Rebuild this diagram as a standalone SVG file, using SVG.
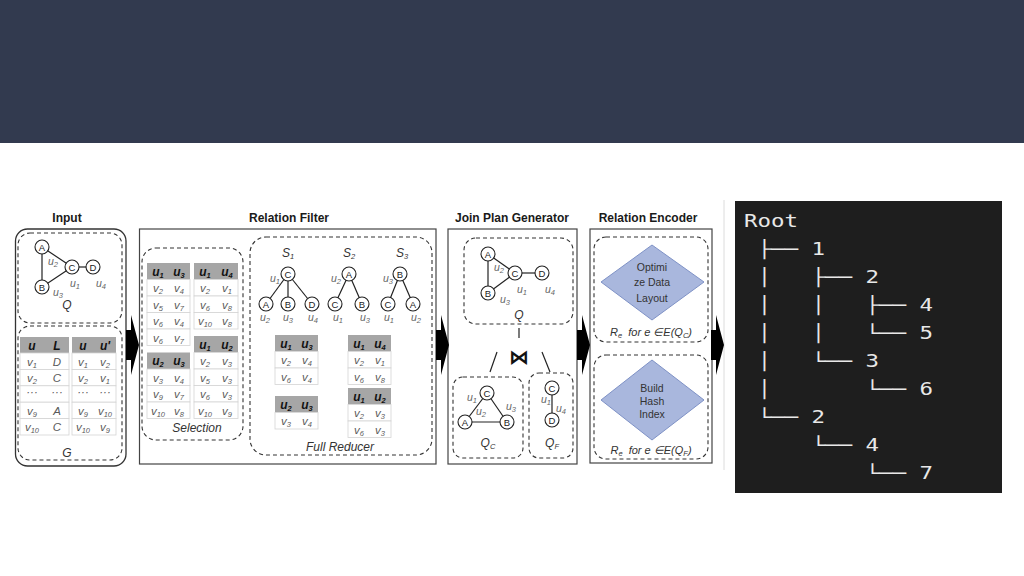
<svg xmlns="http://www.w3.org/2000/svg" width="1024" height="576" viewBox="0 0 1024 576">
<style>
.title{font:bold 12px "Liberation Sans",Arial,sans-serif;fill:#1a1a1a;text-anchor:middle}
.dash{fill:none;stroke:#333;stroke-width:1.1;stroke-dasharray:4 3}
.box{fill:#fff;stroke:#444;stroke-width:1.2}
.hd{fill:#a6a6a6}
.rw{fill:#fff;stroke:#d4d4d4;stroke-width:.8}
.ht{font:bold italic 12px "Liberation Sans",Arial,sans-serif;fill:#111;text-anchor:middle}
.ct{font:italic 11.5px "Liberation Sans",Arial,sans-serif;fill:#5a5a5a;text-anchor:middle}
.sb{font-size:7.5px}
.edge{stroke:#222;stroke-width:1.2}
.nd{fill:#fff;stroke:#222;stroke-width:1.1}
.nl{font:9.5px "Liberation Sans",Arial,sans-serif;fill:#222;text-anchor:middle}
.el{font:italic 10.5px "Liberation Sans",Arial,sans-serif;fill:#666;text-anchor:middle}
.cap{font:italic 12px "Liberation Sans",Arial,sans-serif;fill:#333;text-anchor:middle}
.dm{fill:#a9b7dd;stroke:#7f92c6;stroke-width:1}
.dt{font:10.5px "Liberation Sans",Arial,sans-serif;fill:#333;text-anchor:middle}
.rl{font:italic 11px "Liberation Sans",Arial,sans-serif;fill:#333;text-anchor:middle;white-space:pre}
.tr{font:17px "DejaVu Sans Mono",monospace;fill:#e8e8e8;white-space:pre}
</style>
<defs>
<path id="arw" d="M0,-15 H5 V-30 L13,0 L5,30 V15 H0 Z" fill="#000"/>
</defs>
<rect x="0" y="0" width="1024" height="143" fill="#323a4f"/>
<rect x="0" y="143" width="1024" height="433" fill="#fff"/>

<!-- Titles -->
<text class="title" x="67" y="222">Input</text>
<text class="title" x="289" y="222">Relation Filter</text>
<text class="title" x="512" y="222">Join Plan Generator</text>
<text class="title" x="648" y="222">Relation Encoder</text>

<!-- Input panel -->
<g id="input">
<rect x="15.5" y="229" width="110.5" height="237" rx="12" fill="#fff" stroke="#333" stroke-width="1.3"/>
<rect class="dash" x="18" y="233" width="104" height="90" rx="12"/>
<rect class="dash" x="18" y="326" width="104" height="134" rx="12"/>
<g id="input-edges">
<line class="edge" x1="42" y1="247" x2="72" y2="267"/>
<line class="edge" x1="42" y1="247" x2="42" y2="287"/>
<line class="edge" x1="42" y1="287" x2="72" y2="267"/>
<line class="edge" x1="72" y1="267" x2="93" y2="267"/>
</g>
<g id="in-A"><circle class="nd" cx="42" cy="247" r="7"/><text class="nl" x="42" y="250.5">A</text></g>
<g id="in-C"><circle class="nd" cx="72" cy="267" r="7"/><text class="nl" x="72" y="270.5">C</text></g>
<g id="in-D"><circle class="nd" cx="93" cy="267" r="7"/><text class="nl" x="93" y="270.5">D</text></g>
<g id="in-B"><circle class="nd" cx="42" cy="287" r="7"/><text class="nl" x="42" y="290.5">B</text></g>
<text class="el" x="53" y="265">u<tspan class="sb" dy="2">2</tspan></text>
<text class="el" x="75" y="287">u<tspan class="sb" dy="2">1</tspan></text>
<text class="el" x="101" y="287">u<tspan class="sb" dy="2">4</tspan></text>
<text class="el" x="58" y="296">u<tspan class="sb" dy="2">3</tspan></text>
<text class="cap" x="67" y="309">Q</text>
<g id="tbl-uL">
<rect class="hd" x="20" y="337" width="49" height="16"/>
<rect class="rw" x="20" y="353" width="49" height="16.4"/>
<rect class="rw" x="20" y="369.4" width="49" height="16.4"/>
<rect class="rw" x="20" y="385.8" width="49" height="16.4"/>
<rect class="rw" x="20" y="402.2" width="49" height="16.4"/>
<rect class="rw" x="20" y="418.6" width="49" height="16.4"/>
<text class="ht" x="32" y="349.5">u</text><text class="ht" x="57" y="349.5">L</text>
<text class="ct" x="32" y="365.5">v<tspan class="sb" dy="2">1</tspan></text><text class="ct" x="57" y="365.5">D</text>
<text class="ct" x="32" y="382">v<tspan class="sb" dy="2">2</tspan></text><text class="ct" x="57" y="382">C</text>
<text class="ct" x="32" y="396" font-size="8">···</text><text class="ct" x="57" y="396" font-size="8">···</text>
<text class="ct" x="32" y="414.5">v<tspan class="sb" dy="2">9</tspan></text><text class="ct" x="57" y="414.5">A</text>
<text class="ct" x="32" y="431">v<tspan class="sb" dy="2">10</tspan></text><text class="ct" x="57" y="431">C</text>
</g>
<g id="tbl-uu">
<rect class="hd" x="72" y="337" width="44" height="16"/>
<rect class="rw" x="72" y="353" width="44" height="16.4"/>
<rect class="rw" x="72" y="369.4" width="44" height="16.4"/>
<rect class="rw" x="72" y="385.8" width="44" height="16.4"/>
<rect class="rw" x="72" y="402.2" width="44" height="16.4"/>
<rect class="rw" x="72" y="418.6" width="44" height="16.4"/>
<text class="ht" x="83" y="349.5">u</text><text class="ht" x="105" y="349.5">u'</text>
<text class="ct" x="83" y="365.5">v<tspan class="sb" dy="2">1</tspan></text><text class="ct" x="105" y="365.5">v<tspan class="sb" dy="2">2</tspan></text>
<text class="ct" x="83" y="382">v<tspan class="sb" dy="2">2</tspan></text><text class="ct" x="105" y="382">v<tspan class="sb" dy="2">1</tspan></text>
<text class="ct" x="83" y="396" font-size="8">···</text><text class="ct" x="105" y="396" font-size="8">···</text>
<text class="ct" x="83" y="414.5">v<tspan class="sb" dy="2">9</tspan></text><text class="ct" x="105" y="414.5">v<tspan class="sb" dy="2">10</tspan></text>
<text class="ct" x="83" y="431">v<tspan class="sb" dy="2">10</tspan></text><text class="ct" x="105" y="431">v<tspan class="sb" dy="2">9</tspan></text>
</g>
<text class="cap" x="67" y="457">G</text>
</g>

<!-- Relation Filter panel -->
<g id="relation-filter">
<rect class="box" x="139.5" y="229" width="296.5" height="235"/>
<rect class="dash" x="142" y="248" width="101" height="192" rx="14"/>
<rect class="dash" x="250" y="237" width="182" height="218" rx="16"/>
<g id="sel-u1u3">
<rect class="hd" x="147" y="263" width="43" height="16.5"/>
<rect class="rw" x="147" y="279.5" width="43" height="16.5"/>
<rect class="rw" x="147" y="296" width="43" height="16.5"/>
<rect class="rw" x="147" y="312.5" width="43" height="16.5"/>
<rect class="rw" x="147" y="329" width="43" height="16.5"/>
<text class="ht" x="158" y="275.5">u<tspan class="sb" dy="2">1</tspan></text><text class="ht" x="179" y="275.5">u<tspan class="sb" dy="2">3</tspan></text>
<text class="ct" x="158" y="292">v<tspan class="sb" dy="2">2</tspan></text><text class="ct" x="179" y="292">v<tspan class="sb" dy="2">4</tspan></text>
<text class="ct" x="158" y="308.5">v<tspan class="sb" dy="2">5</tspan></text><text class="ct" x="179" y="308.5">v<tspan class="sb" dy="2">7</tspan></text>
<text class="ct" x="158" y="325">v<tspan class="sb" dy="2">6</tspan></text><text class="ct" x="179" y="325">v<tspan class="sb" dy="2">4</tspan></text>
<text class="ct" x="158" y="341.5">v<tspan class="sb" dy="2">6</tspan></text><text class="ct" x="179" y="341.5">v<tspan class="sb" dy="2">7</tspan></text>
</g>
<g id="sel-u1u4">
<rect class="hd" x="194" y="263" width="44" height="16.5"/>
<rect class="rw" x="194" y="279.5" width="44" height="16.5"/>
<rect class="rw" x="194" y="296" width="44" height="16.5"/>
<rect class="rw" x="194" y="312.5" width="44" height="16.5"/>
<text class="ht" x="205" y="275.5">u<tspan class="sb" dy="2">1</tspan></text><text class="ht" x="227" y="275.5">u<tspan class="sb" dy="2">4</tspan></text>
<text class="ct" x="205" y="292">v<tspan class="sb" dy="2">2</tspan></text><text class="ct" x="227" y="292">v<tspan class="sb" dy="2">1</tspan></text>
<text class="ct" x="205" y="308.5">v<tspan class="sb" dy="2">6</tspan></text><text class="ct" x="227" y="308.5">v<tspan class="sb" dy="2">8</tspan></text>
<text class="ct" x="205" y="325">v<tspan class="sb" dy="2">10</tspan></text><text class="ct" x="227" y="325">v<tspan class="sb" dy="2">8</tspan></text>
</g>
<g id="sel-u1u2">
<rect class="hd" x="194" y="336" width="44" height="16.5"/>
<rect class="rw" x="194" y="352.5" width="44" height="16.5"/>
<rect class="rw" x="194" y="369" width="44" height="16.5"/>
<rect class="rw" x="194" y="385.5" width="44" height="16.5"/>
<rect class="rw" x="194" y="402" width="44" height="16.5"/>
<text class="ht" x="205" y="348.5">u<tspan class="sb" dy="2">1</tspan></text><text class="ht" x="227" y="348.5">u<tspan class="sb" dy="2">2</tspan></text>
<text class="ct" x="205" y="365">v<tspan class="sb" dy="2">2</tspan></text><text class="ct" x="227" y="365">v<tspan class="sb" dy="2">3</tspan></text>
<text class="ct" x="205" y="381.5">v<tspan class="sb" dy="2">5</tspan></text><text class="ct" x="227" y="381.5">v<tspan class="sb" dy="2">3</tspan></text>
<text class="ct" x="205" y="398">v<tspan class="sb" dy="2">6</tspan></text><text class="ct" x="227" y="398">v<tspan class="sb" dy="2">3</tspan></text>
<text class="ct" x="205" y="414.5">v<tspan class="sb" dy="2">10</tspan></text><text class="ct" x="227" y="414.5">v<tspan class="sb" dy="2">9</tspan></text>
</g>
<g id="sel-u2u3">
<rect class="hd" x="147" y="352.5" width="43" height="16.5"/>
<rect class="rw" x="147" y="369" width="43" height="16.5"/>
<rect class="rw" x="147" y="385.5" width="43" height="16.5"/>
<rect class="rw" x="147" y="402" width="43" height="16.5"/>
<text class="ht" x="158" y="365">u<tspan class="sb" dy="2">2</tspan></text><text class="ht" x="179" y="365">u<tspan class="sb" dy="2">3</tspan></text>
<text class="ct" x="158" y="381.5">v<tspan class="sb" dy="2">3</tspan></text><text class="ct" x="179" y="381.5">v<tspan class="sb" dy="2">4</tspan></text>
<text class="ct" x="158" y="398">v<tspan class="sb" dy="2">9</tspan></text><text class="ct" x="179" y="398">v<tspan class="sb" dy="2">7</tspan></text>
<text class="ct" x="158" y="414.5">v<tspan class="sb" dy="2">10</tspan></text><text class="ct" x="179" y="414.5">v<tspan class="sb" dy="2">8</tspan></text>
</g>
<text class="cap" x="197" y="432">Selection</text>

<!-- S trees -->
<text class="cap" x="288" y="257">S<tspan class="sb" dy="2">1</tspan></text>
<text class="cap" x="349" y="257">S<tspan class="sb" dy="2">2</tspan></text>
<text class="cap" x="402" y="257">S<tspan class="sb" dy="2">3</tspan></text>
<g id="tree-edges">
<line class="edge" x1="288" y1="274" x2="266" y2="304"/>
<line class="edge" x1="288" y1="274" x2="288" y2="304"/>
<line class="edge" x1="288" y1="274" x2="312" y2="304"/>
<line class="edge" x1="349" y1="274" x2="335" y2="304"/>
<line class="edge" x1="349" y1="274" x2="362" y2="304"/>
<line class="edge" x1="400" y1="274" x2="388" y2="304"/>
<line class="edge" x1="400" y1="274" x2="413" y2="304"/>
</g>
<g id="s1-C"><circle class="nd" cx="288" cy="274" r="7"/><text class="nl" x="288" y="277.5">C</text></g>
<g id="s1-A"><circle class="nd" cx="266" cy="304" r="7"/><text class="nl" x="266" y="307.5">A</text></g>
<g id="s1-B"><circle class="nd" cx="288" cy="304" r="7"/><text class="nl" x="288" y="307.5">B</text></g>
<g id="s1-D"><circle class="nd" cx="312" cy="304" r="7"/><text class="nl" x="312" y="307.5">D</text></g>
<g id="s2-A"><circle class="nd" cx="349" cy="274" r="7"/><text class="nl" x="349" y="277.5">A</text></g>
<g id="s2-C"><circle class="nd" cx="335" cy="304" r="7"/><text class="nl" x="335" y="307.5">C</text></g>
<g id="s2-B"><circle class="nd" cx="362" cy="304" r="7"/><text class="nl" x="362" y="307.5">B</text></g>
<g id="s3-B"><circle class="nd" cx="400" cy="274" r="7"/><text class="nl" x="400" y="277.5">B</text></g>
<g id="s3-C"><circle class="nd" cx="388" cy="304" r="7"/><text class="nl" x="388" y="307.5">C</text></g>
<g id="s3-A"><circle class="nd" cx="413" cy="304" r="7"/><text class="nl" x="413" y="307.5">A</text></g>
<text class="el" x="275" y="282">u<tspan class="sb" dy="2">1</tspan></text>
<text class="el" x="265" y="321">u<tspan class="sb" dy="2">2</tspan></text>
<text class="el" x="288" y="321">u<tspan class="sb" dy="2">3</tspan></text>
<text class="el" x="313" y="321">u<tspan class="sb" dy="2">4</tspan></text>
<text class="el" x="336" y="282">u<tspan class="sb" dy="2">2</tspan></text>
<text class="el" x="338" y="321">u<tspan class="sb" dy="2">1</tspan></text>
<text class="el" x="365" y="321">u<tspan class="sb" dy="2">3</tspan></text>
<text class="el" x="388" y="282">u<tspan class="sb" dy="2">3</tspan></text>
<text class="el" x="389" y="321">u<tspan class="sb" dy="2">1</tspan></text>
<text class="el" x="416" y="321">u<tspan class="sb" dy="2">2</tspan></text>

<g id="fr-u1u3">
<rect class="hd" x="275" y="335" width="43" height="16.5"/>
<rect class="rw" x="275" y="351.5" width="43" height="16.5"/>
<rect class="rw" x="275" y="368" width="43" height="16.5"/>
<text class="ht" x="286" y="347.5">u<tspan class="sb" dy="2">1</tspan></text><text class="ht" x="307" y="347.5">u<tspan class="sb" dy="2">3</tspan></text>
<text class="ct" x="286" y="364">v<tspan class="sb" dy="2">2</tspan></text><text class="ct" x="307" y="364">v<tspan class="sb" dy="2">4</tspan></text>
<text class="ct" x="286" y="380.5">v<tspan class="sb" dy="2">6</tspan></text><text class="ct" x="307" y="380.5">v<tspan class="sb" dy="2">4</tspan></text>
</g>
<g id="fr-u2u3">
<rect class="hd" x="275" y="396" width="43" height="16.5"/>
<rect class="rw" x="275" y="412.5" width="43" height="16.5"/>
<text class="ht" x="286" y="408.5">u<tspan class="sb" dy="2">2</tspan></text><text class="ht" x="307" y="408.5">u<tspan class="sb" dy="2">3</tspan></text>
<text class="ct" x="286" y="425">v<tspan class="sb" dy="2">3</tspan></text><text class="ct" x="307" y="425">v<tspan class="sb" dy="2">4</tspan></text>
</g>
<g id="fr-u1u4">
<rect class="hd" x="348" y="335" width="43" height="16.5"/>
<rect class="rw" x="348" y="351.5" width="43" height="16.5"/>
<rect class="rw" x="348" y="368" width="43" height="16.5"/>
<text class="ht" x="359" y="347.5">u<tspan class="sb" dy="2">1</tspan></text><text class="ht" x="380" y="347.5">u<tspan class="sb" dy="2">4</tspan></text>
<text class="ct" x="359" y="364">v<tspan class="sb" dy="2">2</tspan></text><text class="ct" x="380" y="364">v<tspan class="sb" dy="2">1</tspan></text>
<text class="ct" x="359" y="380.5">v<tspan class="sb" dy="2">6</tspan></text><text class="ct" x="380" y="380.5">v<tspan class="sb" dy="2">8</tspan></text>
</g>
<g id="fr-u1u2">
<rect class="hd" x="348" y="388" width="43" height="16.5"/>
<rect class="rw" x="348" y="404.5" width="43" height="16.5"/>
<rect class="rw" x="348" y="421" width="43" height="16.5"/>
<text class="ht" x="359" y="400.5">u<tspan class="sb" dy="2">1</tspan></text><text class="ht" x="380" y="400.5">u<tspan class="sb" dy="2">2</tspan></text>
<text class="ct" x="359" y="417">v<tspan class="sb" dy="2">2</tspan></text><text class="ct" x="380" y="417">v<tspan class="sb" dy="2">3</tspan></text>
<text class="ct" x="359" y="433.5">v<tspan class="sb" dy="2">6</tspan></text><text class="ct" x="380" y="433.5">v<tspan class="sb" dy="2">3</tspan></text>
</g>
<text class="cap" x="340" y="451">Full Reducer</text>
</g>

<!-- Join Plan Generator -->
<g id="join-plan">
<rect class="box" x="448" y="229" width="129" height="235"/>
<rect class="dash" x="464" y="238" width="109" height="86" rx="12"/>
<rect class="dash" x="453" y="377" width="70" height="81" rx="10"/>
<rect class="dash" x="529" y="373" width="44" height="85" rx="10"/>
<g id="join-edges">
<line class="edge" x1="488" y1="254" x2="515" y2="273"/>
<line class="edge" x1="488" y1="254" x2="488" y2="293"/>
<line class="edge" x1="488" y1="293" x2="515" y2="273"/>
<line class="edge" x1="515" y1="273" x2="542" y2="273"/>
<line class="edge" x1="519" y1="328" x2="519" y2="338"/>
<line class="edge" x1="497" y1="352" x2="490" y2="372"/>
<line class="edge" x1="542" y1="352" x2="550" y2="372"/>
<line class="edge" x1="487" y1="393" x2="465" y2="422"/>
<line class="edge" x1="487" y1="393" x2="507" y2="422"/>
<line class="edge" x1="465" y1="422" x2="507" y2="422"/>
<line class="edge" x1="552" y1="388" x2="552" y2="420"/>
</g>
<g id="jq-A"><circle class="nd" cx="488" cy="254" r="7"/><text class="nl" x="488" y="257.5">A</text></g>
<g id="jq-C"><circle class="nd" cx="515" cy="273" r="7"/><text class="nl" x="515" y="276.5">C</text></g>
<g id="jq-D"><circle class="nd" cx="542" cy="273" r="7"/><text class="nl" x="542" y="276.5">D</text></g>
<g id="jq-B"><circle class="nd" cx="488" cy="293" r="7"/><text class="nl" x="488" y="296.5">B</text></g>
<text class="el" x="499" y="271">u<tspan class="sb" dy="2">2</tspan></text>
<text class="el" x="522" y="293">u<tspan class="sb" dy="2">1</tspan></text>
<text class="el" x="550" y="293">u<tspan class="sb" dy="2">4</tspan></text>
<text class="el" x="505" y="303">u<tspan class="sb" dy="2">3</tspan></text>
<text class="cap" x="519" y="319">Q</text>
<text x="519" y="364" font-family="DejaVu Sans, sans-serif" font-weight="bold" font-size="20" text-anchor="middle" fill="#111">⋈</text>
<g id="qc-C"><circle class="nd" cx="487" cy="393" r="7"/><text class="nl" x="487" y="396.5">C</text></g>
<g id="qc-A"><circle class="nd" cx="465" cy="422" r="7"/><text class="nl" x="465" y="425.5">A</text></g>
<g id="qc-B"><circle class="nd" cx="507" cy="422" r="7"/><text class="nl" x="507" y="425.5">B</text></g>
<text class="el" x="472" y="401">u<tspan class="sb" dy="2">1</tspan></text>
<text class="el" x="481" y="415">u<tspan class="sb" dy="2">2</tspan></text>
<text class="el" x="511" y="410">u<tspan class="sb" dy="2">3</tspan></text>
<text class="cap" x="488" y="447">Q<tspan class="sb" dy="2">C</tspan></text>
<g id="qf-C"><circle class="nd" cx="552" cy="388" r="7"/><text class="nl" x="552" y="391.5">C</text></g>
<g id="qf-D"><circle class="nd" cx="552" cy="420" r="7"/><text class="nl" x="552" y="423.5">D</text></g>
<text class="el" x="546" y="403">u<tspan class="sb" dy="2">1</tspan></text>
<text class="el" x="561" y="412">u<tspan class="sb" dy="2">4</tspan></text>
<text class="cap" x="552" y="447">Q<tspan class="sb" dy="2">F</tspan></text>
</g>

<!-- Relation Encoder -->
<g id="relation-encoder">
<rect class="box" x="590" y="229" width="122" height="234"/>
<rect class="dash" x="594" y="237" width="114" height="105" rx="12"/>
<rect class="dash" x="594" y="355" width="114" height="104" rx="12"/>
<g id="enc-optimize">
<polygon class="dm" points="601,282 652,245 704,282 652,320"/>
<text class="dt" x="652" y="271">Optimi</text>
<text class="dt" x="652" y="286">ze Data</text>
<text class="dt" x="652" y="302">Layout</text>
</g>
<text class="rl" x="651" y="336">R<tspan class="sb" dy="2">e</tspan><tspan dy="-2">  for e ∈E(Q</tspan><tspan class="sb" dy="2">C</tspan><tspan dy="-2">)</tspan></text>
<g id="enc-hash">
<polygon class="dm" points="601,400 652,360 704,400 652,440"/>
<text class="dt" x="652" y="392">Build</text>
<text class="dt" x="652" y="405">Hash</text>
<text class="dt" x="652" y="418">Index</text>
</g>
<text class="rl" x="651" y="454">R<tspan class="sb" dy="2">e</tspan><tspan dy="-2">  for e ∈E(Q</tspan><tspan class="sb" dy="2">F</tspan><tspan dy="-2">)</tspan></text>
</g>

<line x1="724" y1="200" x2="724" y2="470" stroke="#dcdcdc" stroke-width="1"/>

<!-- Arrows -->
<g id="connectors">
<use href="#arw" x="126" y="345"/>
<use href="#arw" x="436" y="345"/>
<use href="#arw" x="577" y="345"/>
<use href="#arw" x="711" y="345"/>
</g>

<!-- Tree panel -->
<g id="tree-panel">
<rect x="735" y="201" width="267" height="292" fill="#1e1e1e"/>
<g transform="translate(744,0) scale(1.32,1)">
<text class="tr" x="0" y="227" xml:space="preserve">Root</text>
<text class="tr" x="0" y="255" xml:space="preserve"> ├── 1</text>
<text class="tr" x="0" y="283" xml:space="preserve"> │   ├── 2</text>
<text class="tr" x="0" y="311" xml:space="preserve"> │   │   ├── 4</text>
<text class="tr" x="0" y="339" xml:space="preserve"> │   │   └── 5</text>
<text class="tr" x="0" y="367" xml:space="preserve"> │   └── 3</text>
<text class="tr" x="0" y="395" xml:space="preserve"> │       └── 6</text>
<text class="tr" x="0" y="423" xml:space="preserve"> └── 2</text>
<text class="tr" x="0" y="451" xml:space="preserve">     └── 4</text>
<text class="tr" x="0" y="479" xml:space="preserve">         └── 7</text>
</g>
</g>
</svg>
